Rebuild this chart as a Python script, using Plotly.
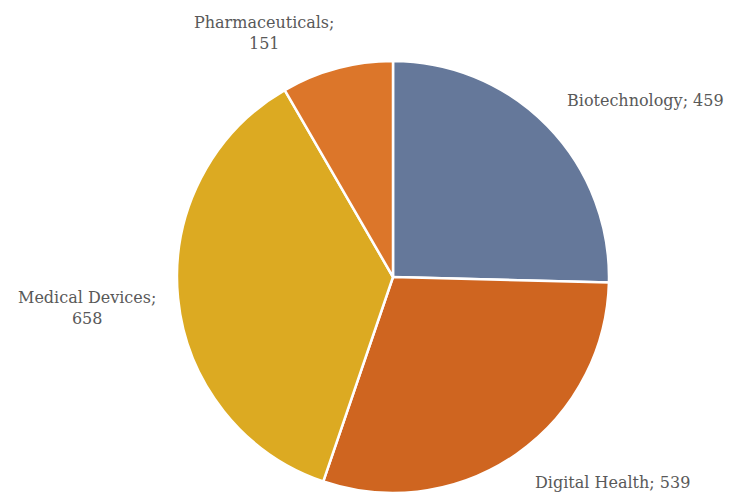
import plotly.graph_objects as go

sectors = ["Biotechnology", "Digital Health", "Medical Devices", "Pharmaceuticals"]
counts = [459, 539, 658, 151]
slice_colors = ["#65789a", "#cf6520", "#dcaa22", "#dc762a"]

W, H = 732, 494
# pie centre ~ (393, 277) px, radius ~ 216 px
cx, cy, r = 393, 277, 216

# label block centres in pixels (x, y from top) and line breaks as in the original
label_pos = [(645, 100), (612, 482), (87, 308), (264, 33)]
label_break = [False, False, True, True]

fig = go.Figure(go.Pie(
    labels=sectors,
    values=counts,
    textinfo="none",
    sort=False,
    direction="clockwise",
    rotation=0,
    marker=dict(colors=slice_colors, line=dict(color="white", width=2.5)),
    showlegend=False,
    hoverinfo="label+value",
    domain=dict(x=[(cx - r) / W, (cx + r) / W],
                y=[(H - cy - r) / H, (H - cy + r) / H]),
))

for name, val, (px_, py_), brk in zip(sectors, counts, label_pos, label_break):
    sep = ";<br>" if brk else "; "
    fig.add_annotation(
        x=px_ / W, y=1 - py_ / H, xref="paper", yref="paper",
        text=f"{name}{sep}{val}",
        showarrow=False, xanchor="center", yanchor="middle",
        font=dict(family="DejaVu Serif", size=16, color="#595959"),
    )

fig.update_layout(
    width=W, height=H,
    margin=dict(l=0, r=0, t=0, b=0),
    paper_bgcolor="white",
    plot_bgcolor="white",
)

# drop the default 8px body margin so the figure fills the window
fig.write_html("out.html", config={"displayModeBar": False},
               post_script="document.body.style.margin='0';")
